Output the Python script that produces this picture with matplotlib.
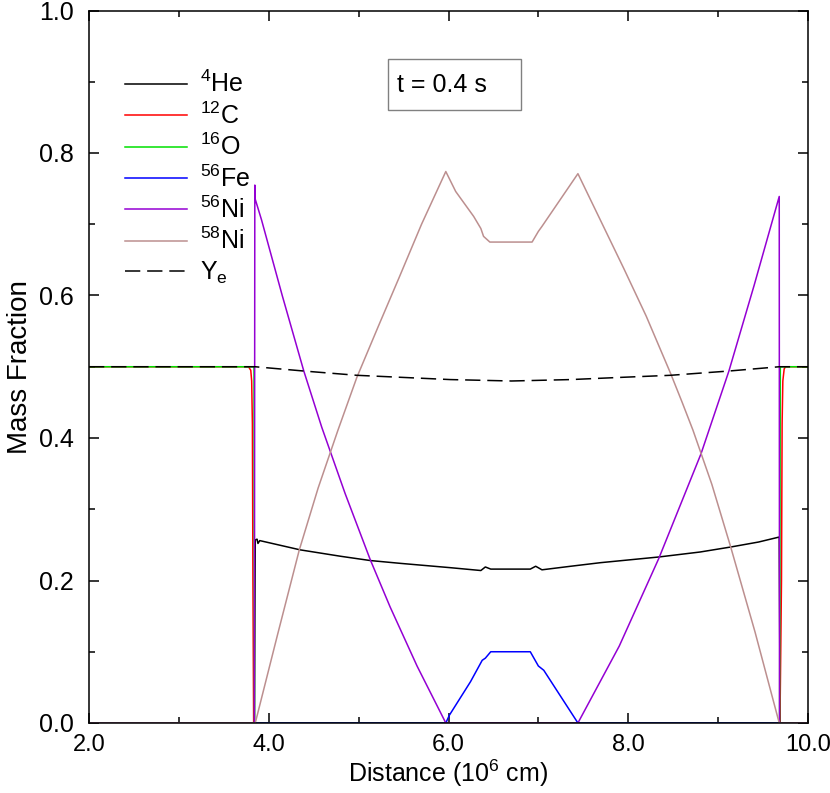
import numpy as np
import matplotlib
matplotlib.use("Agg")
import matplotlib.pyplot as plt
import matplotlib.patches as patches

plt.rcParams['font.family'] = ['Liberation Sans', 'DejaVu Sans']
plt.rcParams['mathtext.fontset'] = 'custom'
plt.rcParams['mathtext.rm'] = 'Liberation Sans'
plt.rcParams['mathtext.it'] = 'Liberation Sans'

# abundances at t = 0.4 s (x in 10^6 cm)
he_x = [2.0, 3.84, 3.85, 3.87, 3.88, 3.9, 4.35, 4.8, 5.13, 5.47, 6.02, 6.36, 6.41, 6.47,
        6.91, 6.97, 7.04, 7.36, 7.69, 8.34, 8.8, 9.14, 9.45, 9.68, 9.69, 10.0]
he_y = [0, 0, 0.257, 0.258, 0.252, 0.256, 0.243, 0.234, 0.228, 0.224, 0.218, 0.214, 0.219, 0.216,
        0.216, 0.220, 0.215, 0.220, 0.225, 0.233, 0.240, 0.247, 0.254, 0.261, 0, 0]

c_x = [2.0, 3.775, 3.80, 3.81, 3.818, 3.824, 3.832, 9.688, 9.705, 9.712, 9.72, 9.735, 9.75, 10.0]
c_y = [0.5, 0.5, 0.495, 0.48, 0.42, 0.2, 0.0, 0.0, 0.2, 0.42, 0.48, 0.497, 0.5, 0.5]

o_x = [2.0, 3.836, 3.842, 9.684, 9.692, 10.0]
o_y = [0.5, 0.5, 0.0, 0.0, 0.5, 0.5]

fe_x = [2.0, 5.97, 6.01, 6.245, 6.375, 6.41, 6.47, 6.91, 7.0, 7.06, 7.44, 10.0]
fe_y = [0, 0, 0.011, 0.058, 0.088, 0.091, 0.1, 0.1, 0.08, 0.074, 0, 0]

ni56_x = [2.0, 3.84, 3.845, 3.85, 3.92, 4.15, 4.39, 4.59, 4.85, 5.13, 5.35, 5.65, 5.97,
          7.44, 7.9, 8.34, 8.81, 9.12, 9.4, 9.68, 9.683, 10.0]
ni56_y = [0, 0, 0.755, 0.735, 0.706, 0.60, 0.494, 0.415, 0.322, 0.229, 0.163, 0.08, 0.0,
          0.0, 0.108, 0.231, 0.378, 0.494, 0.614, 0.739, 0, 0]

ni58_x = [2.0, 3.85, 4.1, 4.34, 4.55, 4.77, 4.98, 5.22, 5.45, 5.7, 5.97, 6.08, 6.28, 6.36,
          6.39, 6.46, 6.93, 7.0, 7.04, 7.44, 7.95, 8.2, 8.47, 8.6, 8.72, 8.93, 9.14, 9.41,
          9.68, 10.0]
ni58_y = [0, 0, 0.125, 0.243, 0.33, 0.411, 0.485, 0.557, 0.625, 0.700, 0.774, 0.746, 0.711,
          0.694, 0.683, 0.675, 0.675, 0.69, 0.697, 0.771, 0.638, 0.571, 0.491, 0.45, 0.411,
          0.335, 0.247, 0.128, 0, 0]

ye_x = [2.0, 3.85, 4.39, 4.98, 5.5, 6.02, 6.7, 7.36, 7.9, 8.47, 9.12, 9.68, 10.0]
ye_y = [0.5, 0.5, 0.494, 0.488, 0.485, 0.482, 0.480, 0.482, 0.485, 0.488, 0.494, 0.5, 0.5]

fig = plt.figure(figsize=(8.3, 7.93), dpi=100)
ax = fig.add_axes([89/830, 1-723/793, (808-89)/830, (723-10.5)/793])

lw = 1.1
ax.plot(he_x, he_y, color='black', lw=lw, label=r'$^{4}$He')
ax.plot(c_x, c_y, color='#ff0000', lw=lw, label=r'$^{12}$C')
ax.plot(o_x, o_y, color='#00e000', lw=lw, label=r'$^{16}$O')
ax.plot(fe_x, fe_y, color='#0000ff', lw=lw, label=r'$^{56}$Fe')
ax.plot(ni56_x, ni56_y, color='#9400d3', lw=lw, label=r'$^{56}$Ni')
ax.plot(ni58_x, ni58_y, color='#bc8f8f', lw=lw, label=r'$^{58}$Ni')
ax.plot(ye_x, ye_y, color='black', lw=lw, dashes=(10, 4.5), label=r'Y$_\mathrm{e}$')

ax.set_xlim(2.0, 10.0)
ax.set_ylim(0.0, 1.0)
ax.set_xticks(np.arange(2.0, 10.01, 2.0))
ax.set_xticks(np.arange(3.0, 10.0, 2.0), minor=True)
ax.set_yticks(np.arange(0.0, 1.01, 0.2))
ax.set_yticks(np.arange(0.1, 1.0, 0.2), minor=True)
ax.xaxis.set_major_formatter(matplotlib.ticker.FormatStrFormatter('%.1f'))
ax.yaxis.set_major_formatter(matplotlib.ticker.FormatStrFormatter('%.1f'))
ax.tick_params(which='both', direction='in', top=True, right=True, width=1.1)
ax.tick_params(which='major', length=7)
ax.tick_params(which='minor', length=4)
ax.tick_params(axis='y', pad=11, labelsize=18)
ax.tick_params(axis='x', pad=8, labelsize=17)
for s in ax.spines.values():
    s.set_linewidth(1.1)

ax.set_xlabel(r'Distance (10$^{6}$ cm)', fontsize=18, labelpad=1)
ax.set_ylabel('Mass Fraction', fontsize=20, labelpad=4)

ax.legend(loc='upper left', bbox_to_anchor=(0.05, 0.915), frameon=False, fontsize=18,
          handlelength=2.48, handletextpad=0.52, labelspacing=0.2, borderpad=0, borderaxespad=0)

ax.add_patch(patches.Rectangle((5.331, 0.860), 1.471, 0.072, fill=False, edgecolor='#808080', lw=1.0))
ax.text(5.432, 0.896, 't = 0.4 s', fontsize=18, va='center', ha='left')

fig.savefig('out.png', dpi=100)
